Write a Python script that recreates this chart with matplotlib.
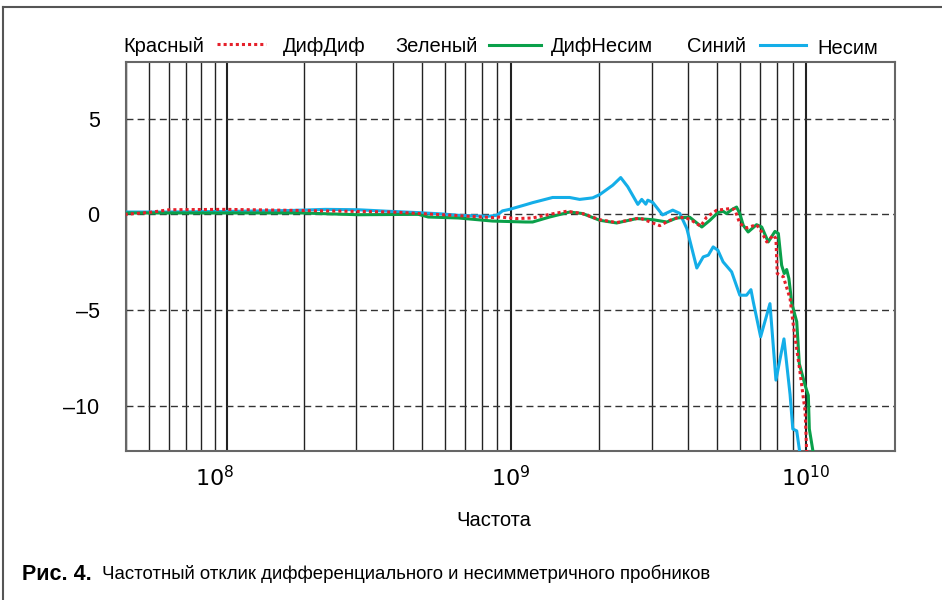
import matplotlib
matplotlib.use("Agg")
import numpy as np
import matplotlib.pyplot as plt
from matplotlib.lines import Line2D
from matplotlib.ticker import FixedLocator, FixedFormatter, NullLocator

# fonts: condensed sans like the original print
plt.rcParams['font.family'] = ['Liberation Sans Narrow', 'Liberation Sans', 'DejaVu Sans']
plt.rcParams['mathtext.fontset'] = 'custom'
plt.rcParams['mathtext.rm'] = 'Liberation Sans Narrow'

# <---- data (frequency in GHz, response in dB) ---->
blue_f = [0.0495, 0.069, 0.108, 0.18, 0.236, 0.305, 0.398, 0.488, 0.588, 0.667,
          0.842, 0.90, 0.939, 0.992, 1.124, 1.188, 1.388, 1.585, 1.714, 1.897,
          2.004, 2.218, 2.36, 2.493, 2.697, 2.78, 2.869, 2.914, 3.03, 3.27,
          3.54, 3.74, 3.95, 4.27, 4.49, 4.67, 4.85, 5.03, 5.24, 5.60,
          5.97, 6.29, 6.51, 6.63, 7.02, 7.55, 7.91, 8.42, 8.83, 9.02,
          9.30, 9.54]
blue_db = [0.12, 0.12, 0.15, 0.2, 0.26, 0.24, 0.15, 0.09, 0.02, -0.05,
           -0.1, -0.05, 0.18, 0.26, 0.5, 0.61, 0.88, 0.88, 0.78, 0.86,
           1.03, 1.52, 1.92, 1.44, 0.52, 0.78, 0.53, 0.74, 0.62, -0.03,
           0.22, 0.05, -0.74, -2.8, -2.22, -2.13, -1.7, -1.87, -2.48, -3.0,
           -4.22, -4.22, -3.93, -4.57, -6.39, -4.66, -8.65, -6.5, -9.4, -11.2,
           -11.3, -12.5]

red_f = [0.0495, 0.06, 0.07, 0.108, 0.18, 0.398, 0.588, 0.869, 0.918, 1.048,
         1.188, 1.356, 1.548, 1.754, 2.004, 2.287, 2.737, 3.20, 3.46, 3.74,
         4.04, 4.40, 4.61, 4.98, 5.52, 5.74, 5.97, 6.29, 6.80, 7.08,
         7.36, 7.75, 7.91, 7.99, 8.38, 8.83, 9.06, 9.54, 9.93, 10.05]
red_db = [0.0, 0.1, 0.24, 0.26, 0.21, 0.12, -0.02, -0.17, -0.14, -0.22,
          -0.19, 0.0, 0.16, 0.04, -0.28, -0.43, -0.19, -0.59, -0.31, -0.14,
          -0.25, -0.62, -0.14, 0.21, 0.3, 0.26, -0.48, -0.71, -0.54, -0.92,
          -1.44, -1.09, -1.27, -3.09, -3.26, -4.4, -5.8, -8.23, -10.3, -12.4]

green_f = [0.0495, 0.197, 0.305, 0.488, 0.527, 0.667, 0.869, 1.124, 1.188, 1.356,
           1.585, 1.754, 2.004, 2.287, 2.673, 3.03, 3.38, 3.65, 4.04, 4.44,
           4.73, 5.03, 5.24, 5.38, 5.60, 5.82, 5.97, 6.13, 6.37, 6.80,
           7.08, 7.45, 7.85, 8.06, 8.27, 8.44, 8.60, 8.75, 8.95, 9.30,
           9.49, 9.93, 10.18, 10.26, 10.59]
green_db = [0.07, 0.07, -0.02, 0.0, -0.14, -0.19, -0.35, -0.4, -0.4, -0.14,
            0.12, 0.04, -0.31, -0.45, -0.22, -0.28, -0.4, -0.19, -0.15, -0.66,
            -0.31, 0.09, 0.16, 0.04, 0.24, 0.38, 0.04, -0.57, -0.92, -0.54,
            -0.66, -1.44, -0.89, -1.0, -2.66, -3.09, -2.88, -3.35, -4.65, -5.6,
            -7.8, -8.93, -9.45, -11.2, -12.5]

y_ticks = [5, 0, -5, -10]
y_tick_labels = ['5', '0', '\u20135', '\u201310']
x_ticks = [1e8, 1e9, 1e10]
x_tick_labels = ['$10^{8}$', '$10^{9}$', '$10^{10}$']

RED = '#e5202a'
GREEN = '#0aa04a'
BLUE = '#14aee8'

fig = plt.figure(figsize=(9.42, 6), dpi=100)
ax = fig.add_axes([126 / 942, 1 - 451 / 600, (895 - 126) / 942, (451 - 62) / 600])

ax.set_xscale('log')
ax.set_xlim(5e7, 2e10)
ax.set_ylim(-12.35, 7.95)

# vertical grid lines, thicker at decades (plus the odd extra one near 1e8)
thin = [m * 10 ** e for e in (7, 8, 9) for m in range(2, 10) if 5e7 <= m * 10 ** e < 2e10]
thin += [1e8]
for xv in thin:
    ax.axvline(xv, color='#222222', lw=1.0, zorder=1)
for xv in [1.1e8, 1e9, 1e10]:
    ax.axvline(xv, color='#222222', lw=1.5, zorder=1)

# horizontal dashed lines
for yv in y_ticks:
    ax.axhline(yv, color='#333333', lw=1.0, ls=(0, (5, 3)), zorder=1)

# curves
ax.plot(np.array(blue_f) * 1e9, blue_db, color=BLUE, lw=2.2, zorder=3)
ax.plot(np.array(green_f) * 1e9, green_db, color=GREEN, lw=2.2, zorder=4)
ax.plot(np.array(red_f) * 1e9, red_db, color=RED, lw=2.2, ls=(0, (1, 1)),
        dash_capstyle='butt', zorder=5)

ax.xaxis.set_major_locator(FixedLocator(x_ticks))
ax.xaxis.set_major_formatter(FixedFormatter(x_tick_labels))
ax.xaxis.set_minor_locator(NullLocator())
ax.yaxis.set_major_locator(FixedLocator(y_ticks))
ax.yaxis.set_major_formatter(FixedFormatter(y_tick_labels))
ax.tick_params(axis='x', length=0, pad=11, labelsize=16)
ax.tick_params(axis='y', length=0, pad=19, labelsize=15.5)

for sp in ax.spines.values():
    sp.set_color('#666666')
    sp.set_linewidth(1.5)

# legend row, drawn by hand (label, sample, label)
def fx(px):
    return px / 942


def fy(py):
    return 1 - py / 600


legend_size = 14.5
fig.text(fx(123), fy(46), 'Красный', fontsize=legend_size, va='center', ha='left')
fig.add_artist(Line2D([fx(217), fx(266)], [fy(44), fy(44)], color=RED, lw=2.2,
                      ls=(0, (1, 1)), dash_capstyle='butt'))
fig.text(fx(283), fy(46), 'ДифДиф', fontsize=legend_size, va='center', ha='left')
fig.text(fx(395), fy(46), 'Зеленый', fontsize=legend_size, va='center', ha='left')
fig.add_artist(Line2D([fx(489), fx(541)], [fy(45), fy(45)], color=GREEN, lw=2.2))
fig.text(fx(551), fy(47), 'ДифНесим', fontsize=legend_size, va='center', ha='left')
fig.text(fx(687), fy(46), 'Синий', fontsize=legend_size, va='center', ha='left')
fig.add_artist(Line2D([fx(760), fx(806)], [fy(45), fy(45)], color=BLUE, lw=2.2))
fig.text(fx(817), fy(48), 'Несим', fontsize=legend_size, va='center', ha='left')

# axis title and caption
fig.text(fx(494), fy(521), 'Частота', fontsize=14.5, ha='center', va='center')
fig.text(fx(22), fy(574), 'Рис. 4.', fontsize=15.5, fontweight='bold',
         family=['Liberation Sans', 'DejaVu Sans'], ha='left', va='center')
fig.text(fx(102), fy(574), 'Частотный отклик дифференциального и несимметричного пробников',
         fontsize=13.4, ha='left', va='center')

# outer frame (top and left edges)
fig.add_artist(Line2D([fx(3), 1.0], [fy(7), fy(7)], color='#555555', lw=1.5))
fig.add_artist(Line2D([fx(3), fx(3)], [fy(7), 0.0], color='#555555', lw=1.5))

fig.savefig('out.png', dpi=100)
